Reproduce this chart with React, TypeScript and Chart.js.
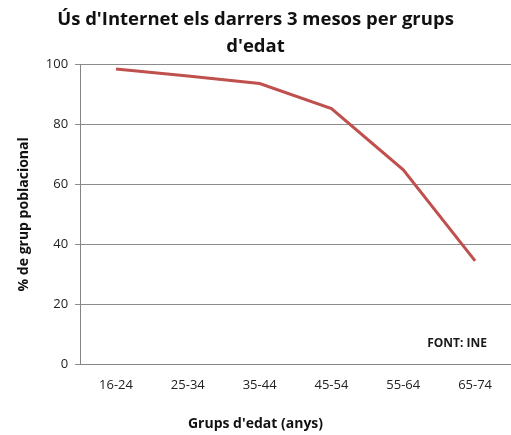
import React, { useEffect, useRef } from "react";
import { Chart, registerables } from "chart.js";

Chart.register(...registerables);

const titleLines = ["Ús d'Internet els darrers 3 mesos per grups", "d'edat"];
const categories = ["16-24", "25-34", "35-44", "45-54", "55-64", "65-74"];
const usage = [98.3, 96, 93.5, 85.2, 64.8, 34.5];
const yTitle = "% de grup poblacional";
const xTitle = "Grups d'edat (anys)";
const sourceNote = "FONT: INE";

const FONT = "'Open Sans', sans-serif";

const notePlugin = {
  id: "sourceNote",
  afterDatasetsDraw(chart: any) {
    const { ctx, chartArea } = chart;
    ctx.save();
    ctx.font = `bold 12px ${FONT}`;
    ctx.fillStyle = "#1a1a1a";
    ctx.textAlign = "right";
    ctx.textBaseline = "middle";
    ctx.fillText(sourceNote, chartArea.right - 24, chartArea.bottom - 21);
    ctx.restore();
  },
};

export default function App() {
  const ref = useRef<HTMLCanvasElement | null>(null);
  useEffect(() => {
    if (!ref.current) return;
    const chart = new Chart(ref.current, {
      type: "line",
      data: {
        labels: categories,
        datasets: [
          {
            data: usage,
            borderColor: "#C0504D",
            borderWidth: 3,
            pointRadius: 0,
            tension: 0,
            fill: false,
          },
        ],
      },
      options: {
        animation: false,
        responsive: false,
        layout: { padding: { left: 0, right: 0, top: 0, bottom: 0 } },
        plugins: {
          legend: { display: false },
          tooltip: { enabled: false },
          title: {
            display: true,
            text: titleLines,
            color: "#111",
            font: { family: FONT, size: 18.5, weight: "bold", lineHeight: "27px" },
            padding: { top: 6, bottom: 4 },
          },
          subtitle: {
            display: true,
            position: "bottom",
            text: xTitle,
            color: "#111",
            font: { family: FONT, size: 14, weight: "bold", lineHeight: 1.2 },
            padding: { top: 9, bottom: 3 },
          },
        },
        scales: {
          x: {
            offset: true,
            grid: { display: false, drawTicks: false },
            border: { display: true, color: "#868686", width: 1 },
            ticks: { color: "#222", font: { family: FONT, size: 13 }, padding: 13 },
          },
          y: {
            min: 0,
            max: 100,
            ticks: { stepSize: 20, color: "#222", font: { family: FONT, size: 13 }, padding: 7 },
            grid: { color: "#8c8c8c", tickLength: 5, lineWidth: 1 },
            border: { display: true, color: "#868686" },
            title: {
              display: true,
              text: yTitle,
              color: "#111",
              font: { family: FONT, size: 14, weight: "bold", lineHeight: 1.2 },
              padding: { top: 16, bottom: 6 },
            },
          },
        },
      },
      plugins: [notePlugin],
    });
    return () => chart.destroy();
  }, []);
  return (
    <div style={{ position: "absolute", left: 0, top: 0, width: 511, height: 435, background: "#fff" }}>
      <canvas ref={ref} width={511} height={435} style={{ display: "block" }} />
    </div>
  );
}
